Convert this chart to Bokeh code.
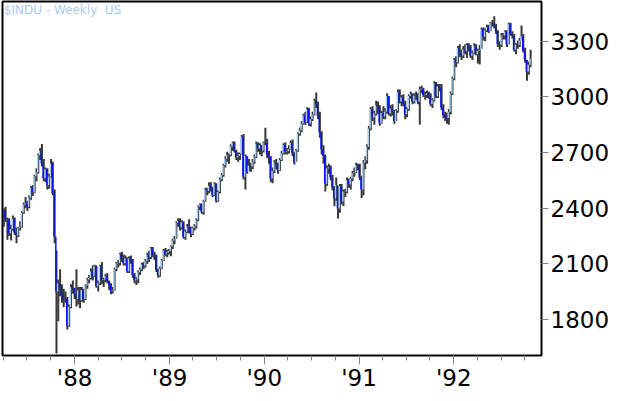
import pandas as pd
from datetime import datetime
from bokeh.plotting import figure
from bokeh.models import FixedTicker, Label, Range1d, ColumnDataSource
from bokeh.embed import file_html
from bokeh.resources import INLINE

# Weekly $INDU values (Friday weeks, starting 1987-04-03)
close_1987 = [2390,2339,2338,2264,2287,2343,2270,2253,2291,2300,2377,2420,2427,2409,2455,2510,2485,2572,2592,2685,
              2709,2639,2561,2608,2525,2570,2641,2482,2246,1950,1993,1959,1935,1913,1910,1767,1867,1975,1969,1939]
high_1987 = [2400,2407,2350,2345,2310,2360,2350,2295,2300,2330,2385,2430,2460,2440,2470,2520,2525,2580,2615,2695,
             2725,2746,2665,2620,2615,2585,2665,2650,2500,2170,2015,2070,1990,1965,1950,1920,1880,1990,2010,1970]
low_1987 = [2300,2325,2230,2250,2225,2280,2255,2210,2245,2280,2295,2370,2400,2385,2400,2445,2465,2480,2545,2585,
            2660,2625,2545,2540,2500,2505,2565,2470,2210,1616,1790,1925,1890,1865,1890,1745,1760,1860,1940,1910]

close_1988 = [1911,1956,1903,1958,1910,1983,2014,2023,2058,2035,2087,1979,1995,2091,2013,2015,2032,2007,1990,1952,
              1956,2072,2101,2104,2152,2131,2103,2128,2060,2129,2119,2039,2011,2017,2054,2069,2097,2091,2113,2150,
              2136,2183,2149,2145,2068,2038,2075,2118,2173,2156,2162,2169]
high_1988 = [2070,1975,1975,1975,1965,1990,2025,2040,2075,2090,2095,2090,2010,2095,2110,2025,2045,2050,2010,1995,
             1975,2080,2110,2120,2160,2165,2150,2145,2135,2140,2145,2125,2050,2030,2065,2080,2105,2110,2125,2160,
             2170,2190,2190,2165,2150,2075,2085,2125,2180,2185,2175,2180]
low_1988 = [1870,1880,1860,1895,1890,1905,1965,1995,2015,2010,2030,1970,1950,1985,1990,1975,2000,1995,1960,1935,
            1940,1955,2060,2080,2090,2110,2090,2090,2050,2050,2100,2025,1995,1985,1995,2040,2060,2070,2080,2100,
            2110,2125,2135,2120,2055,2025,2030,2070,2115,2140,2135,2150]

close_1989 = [2194,2226,2235,2322,2331,2296,2324,2245,2274,2303,2292,2262,2293,2304,2338,2409,2419,2381,2439,2501,
              2493,2521,2512,2470,2531,2440,2487,2555,2579,2631,2667,2685,2687,2732,2752,2709,2674,2681,2692,2785,
              2569,2683,2597,2630,2626,2651,2675,2747,2722,2739,2711,2753]
high_1989 = [2200,2235,2250,2330,2345,2345,2335,2330,2285,2315,2340,2300,2300,2315,2345,2415,2425,2425,2445,2510,
             2510,2540,2540,2515,2540,2535,2495,2565,2590,2640,2680,2705,2695,2745,2760,2760,2715,2700,2700,2795,
             2800,2690,2680,2665,2645,2665,2690,2760,2755,2750,2740,2760]
low_1989 = [2140,2180,2205,2235,2300,2280,2285,2235,2230,2265,2265,2245,2255,2280,2290,2330,2390,2370,2365,2435,
            2470,2480,2490,2460,2465,2430,2435,2480,2545,2570,2620,2650,2640,2680,2710,2700,2660,2650,2660,2690,
            2555,2500,2585,2600,2595,2610,2640,2670,2705,2690,2680,2700]

close_1990 = [2753,2689,2677,2560,2602,2648,2636,2603,2660,2696,2741,2704,2707,2718,2752,2695,2646,2710,2801,2819,
              2855,2900,2863,2935,2857,2880,2905,2980,2961,2899,2809,2716,2681,2532,2614,2619,2564,2512,2452,2524,
              2398,2520,2436,2490,2488,2550,2527,2560,2590,2593,2633,2629]
high_1990 = [2834,2775,2710,2680,2620,2660,2665,2645,2670,2710,2750,2755,2725,2740,2765,2770,2705,2720,2810,2835,
             2870,2910,2920,2945,2940,2895,2920,2990,3024,2975,2920,2815,2740,2690,2630,2640,2630,2580,2520,2565,
             2520,2530,2530,2500,2505,2565,2560,2570,2600,2620,2645,2640]
low_1990 = [2740,2670,2640,2540,2535,2590,2610,2585,2600,2655,2690,2690,2690,2695,2715,2680,2635,2650,2705,2790,
            2810,2850,2850,2860,2845,2840,2870,2900,2940,2880,2780,2690,2640,2490,2520,2585,2550,2495,2410,2440,
            2344,2375,2420,2410,2460,2480,2510,2500,2545,2570,2590,2605]

close_1991 = [2566,2501,2646,2659,2730,2830,2934,2889,2909,2955,2948,2858,2913,2896,2920,3005,2912,2938,2920,2870,
              2925,3027,2976,2997,2965,2906,2933,3005,3016,2975,3006,3007,2975,3040,3044,3012,3010,3019,3001,2962,
              2984,3077,3004,3056,3049,2943,2902,2895,2886,2920,3018,3101]
high_1991 = [2640,2575,2660,2680,2745,2845,2945,2950,2925,2980,2975,2955,2925,2950,2940,3020,3005,2955,2960,2930,
             2935,3040,3040,3010,3015,2980,2945,3015,3030,3020,3020,3030,3020,3055,3060,3050,3030,3035,3030,3020,
             2995,3085,3080,3070,3070,3070,2960,2920,2915,2935,3030,3110]
low_1991 = [2550,2455,2470,2610,2640,2715,2820,2870,2850,2900,2910,2845,2855,2880,2880,2910,2900,2895,2900,2855,
            2870,2915,2965,2950,2950,2880,2890,2925,2990,2960,2965,2985,2960,2850,3020,3000,2985,2995,2990,2950,
            2940,2975,2995,2995,3030,2930,2885,2870,2855,2850,2905,3010]

close_1992 = [3201,3186,3265,3233,3223,3255,3246,3280,3268,3222,3236,3276,3231,3249,3255,3366,3325,3359,3378,3354,
              3399,3397,3383,3354,3285,3282,3330,3331,3352,3285,3394,3340,3330,3254,3281,3282,3305,3327,3250,3201,
              3137,3174,3207]
high_1992 = [3210,3220,3275,3285,3255,3275,3285,3290,3290,3280,3250,3290,3285,3260,3280,3375,3375,3370,3390,3390,
             3405,3415,3436,3395,3360,3300,3345,3345,3360,3360,3400,3400,3355,3340,3290,3305,3320,3385,3340,3265,
             3200,3190,3255]
low_1992 = [3090,3160,3180,3215,3200,3210,3230,3210,3245,3210,3200,3230,3225,3180,3175,3260,3305,3300,3350,3345,
            3355,3380,3370,3340,3270,3255,3270,3310,3310,3270,3285,3330,3315,3245,3230,3260,3270,3310,3240,3185,
            3087,3120,3160]

y_ticks = [1800, 2100, 2400, 2700, 3000, 3300]
year_ticks = [1988, 1989, 1990, 1991, 1992]
year_labels = ["'88", "'89", "'90", "'91", "'92"]
title_text = "$INDU - Weekly\u00a0 US"

close = close_1987 + close_1988 + close_1989 + close_1990 + close_1991 + close_1992
high = high_1987 + high_1988 + high_1989 + high_1990 + high_1991 + high_1992
low = low_1987 + low_1988 + low_1989 + low_1990 + low_1991 + low_1992
dates = pd.date_range("1987-04-03", periods=len(close), freq="7D")
body_x = dates - pd.Timedelta(hours=60)   # body drawn just left of the range bar
prev = [close[0]] + close[:-1]
colors = ["#a9cff4" if c >= o else "#0a14f0" for o, c in zip(prev, close)]

src = ColumnDataSource(dict(x=dates, bx=body_x, high=high, low=low, close=close, prev=prev, color=colors))

def ms(d):
    return (pd.Timestamp(d) - pd.Timestamp("1970-01-01")).total_seconds() * 1000.0

p = figure(width=612, height=393, x_axis_type="datetime", y_axis_location="right",
           output_backend="svg", toolbar_location=None,
           x_range=Range1d(ms(datetime(1987, 3, 29)), ms(datetime(1992, 12, 4))),
           y_range=Range1d(1605, 3515),
           min_border_left=2, min_border_top=1, min_border_right=0, min_border_bottom=0)
p.grid.visible = False
p.outline_line_color = "black"
p.outline_line_width = 2
p.background_fill_color = "white"
p.border_fill_color = "white"

p.segment(x0="x", y0="low", x1="x", y1="high", source=src, line_color="#383838", line_width=2)
p.segment(x0="bx", y0="prev", x1="bx", y1="close", source=src, line_color="color", line_width=1.5)

ya = p.yaxis[0]
ya.ticker = FixedTicker(ticks=y_ticks, minor_ticks=[])
ya.axis_line_color = None
ya.major_tick_line_color = "#808080"
ya.major_tick_out = 7
ya.major_tick_in = 0
ya.minor_tick_out = 0
ya.major_label_standoff = 2
ya.major_label_text_font = "DejaVu Sans"
ya.major_label_text_font_size = "23px"
ya.major_label_text_color = "black"

major = [ms(datetime(y, 1, 1)) for y in year_ticks]
minor = [ms(datetime(y, m, 1)) for y in range(1987, 1993) for m in (1, 4, 7, 10)
         if datetime(1987, 3, 29) < datetime(y, m, 1) < datetime(1992, 12, 4)]
xa = p.xaxis[0]
xa.ticker = FixedTicker(ticks=major, minor_ticks=minor)
xa.major_label_overrides = {t: lab for t, lab in zip(major, year_labels)}
xa.axis_line_color = None
xa.major_tick_line_color = "#808080"
xa.minor_tick_line_color = "#808080"
xa.major_tick_out = 9
xa.major_tick_in = 0
xa.minor_tick_out = 5
xa.minor_tick_in = 0
xa.major_label_standoff = 0
xa.major_label_text_font = "DejaVu Sans"
xa.major_label_text_font_size = "23px"
xa.major_label_text_color = "black"

p.add_layout(Label(x=ms(datetime(1987, 4, 3)), y=3508, text=title_text, text_font="DejaVu Sans",
                   text_font_size="12px", text_color="#a9c9ee", text_baseline="top"))

open("out.html", "w").write(file_html(p, INLINE))
